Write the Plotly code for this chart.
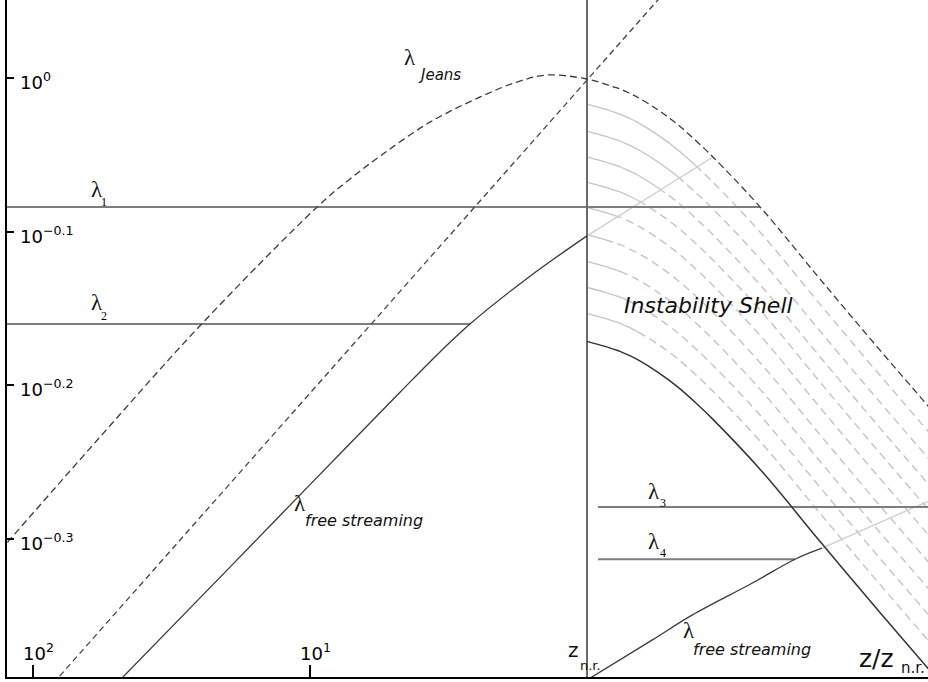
import math
import plotly.graph_objects as go

# ---------------- data ----------------
# Jeans length (left branch, peak, right branch)  z , lambda
jeans_z = [131.5, 57.3, 24.95, 9.44, 7.17, 5.45, 3.69, 2.43, 1.79, 1.394, 1.0,
           0.861, 0.799, 0.760, 0.711, 0.654, 0.554, 0.473, 0.407, 0.351,
           0.237, 0.144, 0.0876, 0.0587, 0.045]
jeans_lam = [0.4925, 0.584, 0.690, 0.824, 0.8597, 0.8924, 0.936, 0.972, 0.994, 1.0045, 0.9985,
             0.991, 0.9866, 0.9837, 0.9785, 0.9712, 0.9532, 0.9334, 0.9114, 0.8884,
             0.8242, 0.7398, 0.6652, 0.6117, 0.5777]
z_nr = 1.0

# straight dashed line
line_z = [131.5, 0.391]
line_lam = [0.369, 1.207]

# free streaming, before z_nr (solid) and its continuation (grey)
fs_left_z = [52.72, 19.45, 10.0, 4.733, 3.394, 2.645, 1.606, 1.0]
fs_left_lam = [0.3996, 0.4806, 0.5438, 0.6245, 0.6634, 0.6918, 0.7431, 0.7894]
fs_left_cont_z = [1.0, 0.3508]
fs_left_cont_lam = [0.7894, 0.8884]

# free streaming, after z_nr (solid) and its continuation (grey)
fs_right_z = [1.0, 0.5825, 0.4177, 0.2537, 0.1775, 0.1418]
fs_right_lam = [0.4058, 0.4308, 0.4472, 0.4691, 0.4863, 0.4944]
fs_right_cont_z = [0.1418, 0.06653, 0.05099]
fs_right_cont_lam = [0.4944, 0.5252, 0.5355]

# horizontal scales lambda_1..4 : level, z start, z end
lam_levels = [0.8242, 0.6918, 0.5259, 0.4863]
lam_z_start = [131.5, 131.5, 0.9128, 0.9128]
lam_z_end = [0.2373, 2.645, 0.045, 0.1775]

# instability shell: ratio of each shell curve to lambda_Jeans, and z where it turns dashed
shell_ratio = [0.963, 0.925, 0.890, 0.857, 0.825, 0.792, 0.761, 0.732, 0.704]
shell_split_z = [0.407, 0.473, 0.554, 0.654, 0.799, 0.861, 0.760, 0.711, 0.654]
lower_shell_ratio = 0.675

# axis ticks
x_tickvals = [100, 10]
x_ticktext = ["10<sup>2</sup>", "10<sup>1</sup>"]
y_tickvals = [1.0, 10 ** -0.1, 10 ** -0.2, 10 ** -0.3]
y_ticktext = ["10<sup>0</sup>", "10<sup>\u22120.1</sup>", "10<sup>\u22120.2</sup>", "10<sup>\u22120.3</sup>"]

# ---------------- figure ----------------
fig = go.Figure()

def add_line(xs, ys, color, width, dash="solid", shape="spline"):
    fig.add_trace(go.Scatter(x=xs, y=ys, mode="lines",
                             line=dict(color=color, width=width, dash=dash, shape=shape,
                                       smoothing=1.0 if shape == "spline" else None),
                             hoverinfo="skip", showlegend=False))

right_idx = [i for i, z in enumerate(jeans_z) if z <= z_nr]
rz = [jeans_z[i] for i in right_idx]
rl = [jeans_lam[i] for i in right_idx]

GREY = "#c4c4c4"
for r, zs in zip(shell_ratio, shell_split_z):
    solid_z = [z for z in rz if z >= zs]
    solid_l = [l * r for z, l in zip(rz, rl) if z >= zs]
    dash_z = [z for z in rz if z <= zs]
    dash_l = [l * r for z, l in zip(rz, rl) if z <= zs]
    add_line(solid_z, solid_l, GREY, 1.3)
    add_line(dash_z, dash_l, GREY, 1.4, dash="8px,5px")

# grey continuations of free streaming
add_line(fs_left_cont_z, fs_left_cont_lam, "#cfcfcf", 1.4, shape="linear")
add_line(fs_right_cont_z, fs_right_cont_lam, "#cfcfcf", 1.4, shape="linear")

# lambda scales
for lv, z0, z1 in zip(lam_levels, lam_z_start, lam_z_end):
    add_line([z0, z1], [lv, lv], "#7d7d7d", 2, shape="linear")

# z_nr vertical
add_line([z_nr, z_nr], [0.3, 1.3], "#6a6a6a", 2, shape="linear")

# Jeans and straight dashed
add_line(jeans_z, jeans_lam, "#3c3c3c", 1.3, dash="7px,4px")
add_line(line_z, line_lam, "#444444", 1.3, dash="6px,4px", shape="linear")

# free streaming solids
add_line(fs_left_z, fs_left_lam, "#3a3a3a", 1.3)
add_line(fs_right_z, fs_right_lam, "#3a3a3a", 1.3)

# lower boundary of instability shell
add_line(rz, [l * lower_shell_ratio for l in rl], "#333333", 1.5)

# ---------------- labels ----------------
W, H, L, B = 928, 682, 7, 5
PW, PH = W - L, H - B
SANS = "DejaVu Sans"
SERIF = "Liberation Serif"

def ann(text, px, py, size, family=SANS, color="#111111"):
    fig.add_annotation(text=text, x=(px - L) / PW, y=(PH - py) / PH, xref="paper", yref="paper",
                       showarrow=False, xanchor="center", yanchor="middle",
                       font=dict(size=size, family=family, color=color))

ann("\u03bb", 410, 57, 23, SERIF)
ann("<i>Jeans</i>", 439, 75, 15)
ann("\u03bb", 97, 189, 23, SERIF)
ann("1", 104, 202, 12, SERIF, "#000000")
ann("\u03bb", 97, 302, 23, SERIF)
ann("2", 104, 316, 12, SERIF, "#000000")
ann("\u03bb", 300, 503, 23, SERIF)
ann("<i>free streaming</i>", 364, 520, 16)
ann("<i>Instability Shell</i>", 708, 305, 22)
ann("\u03bb", 654, 491, 23, SERIF)
ann("3", 663, 503, 12, SERIF, "#000000")
ann("\u03bb", 654, 541, 23, SERIF)
ann("4", 663, 553, 12, SERIF, "#000000")
ann("\u03bb", 689, 630, 23, SERIF)
ann("<i>free streaming</i>", 752, 649, 16)
ann("z", 573, 650, 20)
ann("n.r.", 590, 665, 13)
ann("z/z", 876, 658, 25)
ann("n.r.", 913, 668, 15)

# x tick labels (placed on the x scale, just above the axis)
for v, t in zip(x_tickvals, x_ticktext):
    fig.add_annotation(text=t, x=math.log10(v), xref="x", y=(PH - 652) / PH, yref="paper",
                       xshift=5, showarrow=False, xanchor="center", yanchor="middle",
                       font=dict(family=SANS, size=18, color="black"))
# y tick labels (placed on the y scale, inside the plot)
for v, t in zip(y_tickvals, y_ticktext):
    fig.add_annotation(text=t, x=(18 - L) / PW, xref="paper", y=math.log10(v), yref="y",
                       yshift=-3, showarrow=False, xanchor="left", yanchor="middle",
                       font=dict(family=SANS, size=18, color="black"))

fig.update_xaxes(type="log", range=[2.09386, -1.23105], showline=True, linecolor="black", linewidth=2,
                 mirror=False, showgrid=False, zeroline=False,
                 tickvals=x_tickvals, ticktext=x_ticktext, ticks="inside", ticklen=12, tickwidth=2,
                 tickcolor="black", showticklabels=False)
fig.update_yaxes(type="log", range=[-0.38972, 0.05075], showline=True, linecolor="black", linewidth=2,
                 mirror=False, showgrid=False, zeroline=False,
                 tickvals=y_tickvals, ticktext=y_ticktext, ticks="inside", ticklen=7, tickwidth=2,
                 tickcolor="black", showticklabels=False)

fig.update_layout(width=W, height=H, margin=dict(l=L, r=0, t=0, b=B),
                  paper_bgcolor="white", plot_bgcolor="white", showlegend=False)

fig.write_html("out.html", config={"displayModeBar": False},
               post_script="document.body.style.margin='0px';")
